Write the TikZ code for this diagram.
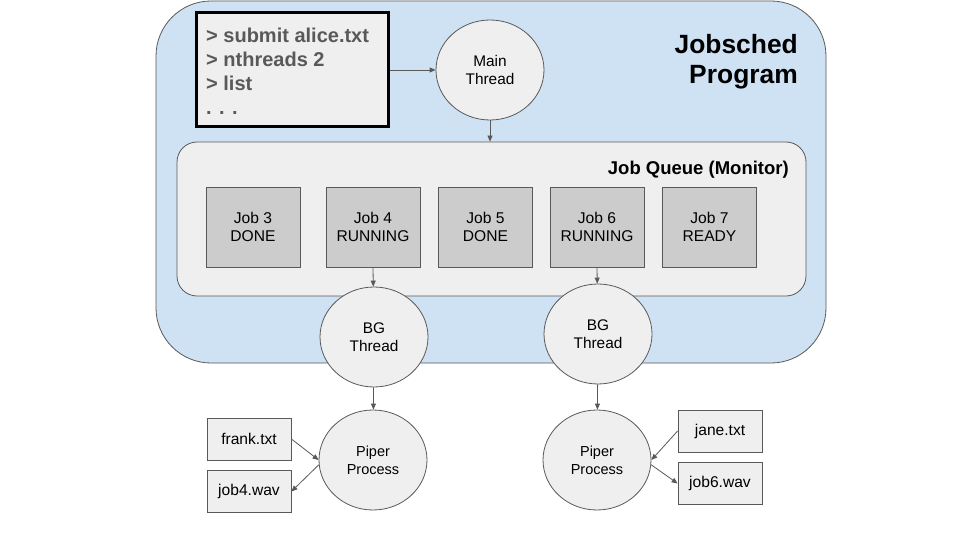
\documentclass[tikz,border=0pt]{standalone}
\usepackage{fontspec}
\setmainfont{Liberation Sans}
\usetikzlibrary{shapes.geometric,arrows.meta}
\definecolor{edge}{HTML}{595959}
\definecolor{progblue}{HTML}{CFE2F3}
\definecolor{lightgray}{HTML}{EFEFEF}
\definecolor{jobgray}{HTML}{CCCCCC}
\tikzset{
  base/.style={draw=edge, line width=0.8pt, inner sep=0pt},
  outerbox/.style={base, fill=progblue, rounded corners=55pt},
  queuebox/.style={base, fill=lightgray, rounded corners=20pt},
  termbox/.style={draw=black, line width=3pt, fill=lightgray, inner sep=0pt},
  jobbox/.style={base, fill=jobgray, minimum width=94pt, minimum height=80pt, align=center,
    font=\fontsize{15.6}{18}\selectfont},
  threadell/.style={base, ellipse, fill=lightgray, minimum width=108pt, minimum height=100pt,
    align=center, font=\fontsize{15.4}{18}\selectfont},
  procell/.style={threadell, font=\fontsize{14.5}{18}\selectfont},
  filebox/.style={base, fill=lightgray, minimum width=84pt, minimum height=42pt,
    font=\fontsize{15.6}{18}\selectfont},
  titlebig/.style={font=\bfseries\fontsize{26.4}{30}\selectfont, align=right, inner sep=0pt},
  titlemid/.style={font=\bfseries\fontsize{18.5}{22}\selectfont, inner sep=0pt},
  termtext/.style={font=\bfseries\fontsize{20}{24}\selectfont, text=edge, align=left, inner sep=0pt},
  arr/.style={draw=edge, line width=0.8pt, -{Triangle[length=6pt,width=5pt]}}
}
\begin{document}
\begin{tikzpicture}[x=1pt,y=-1pt]
\useasboundingbox[fill=white] (0,0) rectangle (960,540);
% program container
\node[outerbox, minimum width=670pt, minimum height=362pt] (prog) at (491,182) {};
\node[titlebig, anchor=east] (progtitle) at (798,61.5) {Jobsched\\Program};
% terminal
\node[termbox, minimum width=192pt, minimum height=114pt] (term) at (292,70) {};
\node[termtext, anchor=west] (cmds) at (206,71) {> submit alice.txt\\> nthreads 2\\> list\\. . .};
% main thread
\node[threadell] (main) at (490,70) {Main\\Thread};
% job queue
\node[queuebox, minimum width=629pt, minimum height=154pt] (jq) at (491.5,219) {};
\node[titlemid, anchor=east] (jqtitle) at (789,170) {Job Queue (Monitor)};
\node[jobbox] (job3) at (253,227) {Job 3\\DONE};
\node[jobbox] (job4) at (373,227) {Job 4\\RUNNING};
\node[jobbox] (job5) at (485.5,227) {Job 5\\DONE};
\node[jobbox] (job6) at (597,227) {Job 6\\RUNNING};
\node[jobbox] (job7) at (709.5,227) {Job 7\\READY};
% background threads
\node[threadell] (bg1) at (374,337) {BG\\Thread};
\node[threadell] (bg2) at (598,334) {BG\\Thread};
% piper processes
\node[procell] (pp1) at (373,460) {Piper\\Process};
\node[procell] (pp2) at (597,460) {Piper\\Process};
% files
\node[filebox] (frank) at (249,439) {frank.txt};
\node[filebox] (wav4) at (249,491.5) {job4.wav};
\node[filebox] (jane) at (720,431) {jane.txt};
\node[filebox] (wav6) at (720,483.5) {job6.wav};
% connectors
\draw[arr] (term.east) -- (main.west);
\draw[arr] (main.south) -- (main.south |- jq.north);
\draw[arr] (job4.south) -- (bg1);
\draw[arr] (job6.south) -- (bg2);
\draw[arr] (bg1) -- (pp1);
\draw[arr] (bg2) -- (pp2);
\draw[arr] (frank.east) -- (pp1.west);
\draw[arr] (pp1.185) -- (wav4.east);
\draw[arr] (jane.west) -- (pp2.east);
\draw[arr] (pp2.-5) -- (wav6.west);
\end{tikzpicture}
\end{document}
